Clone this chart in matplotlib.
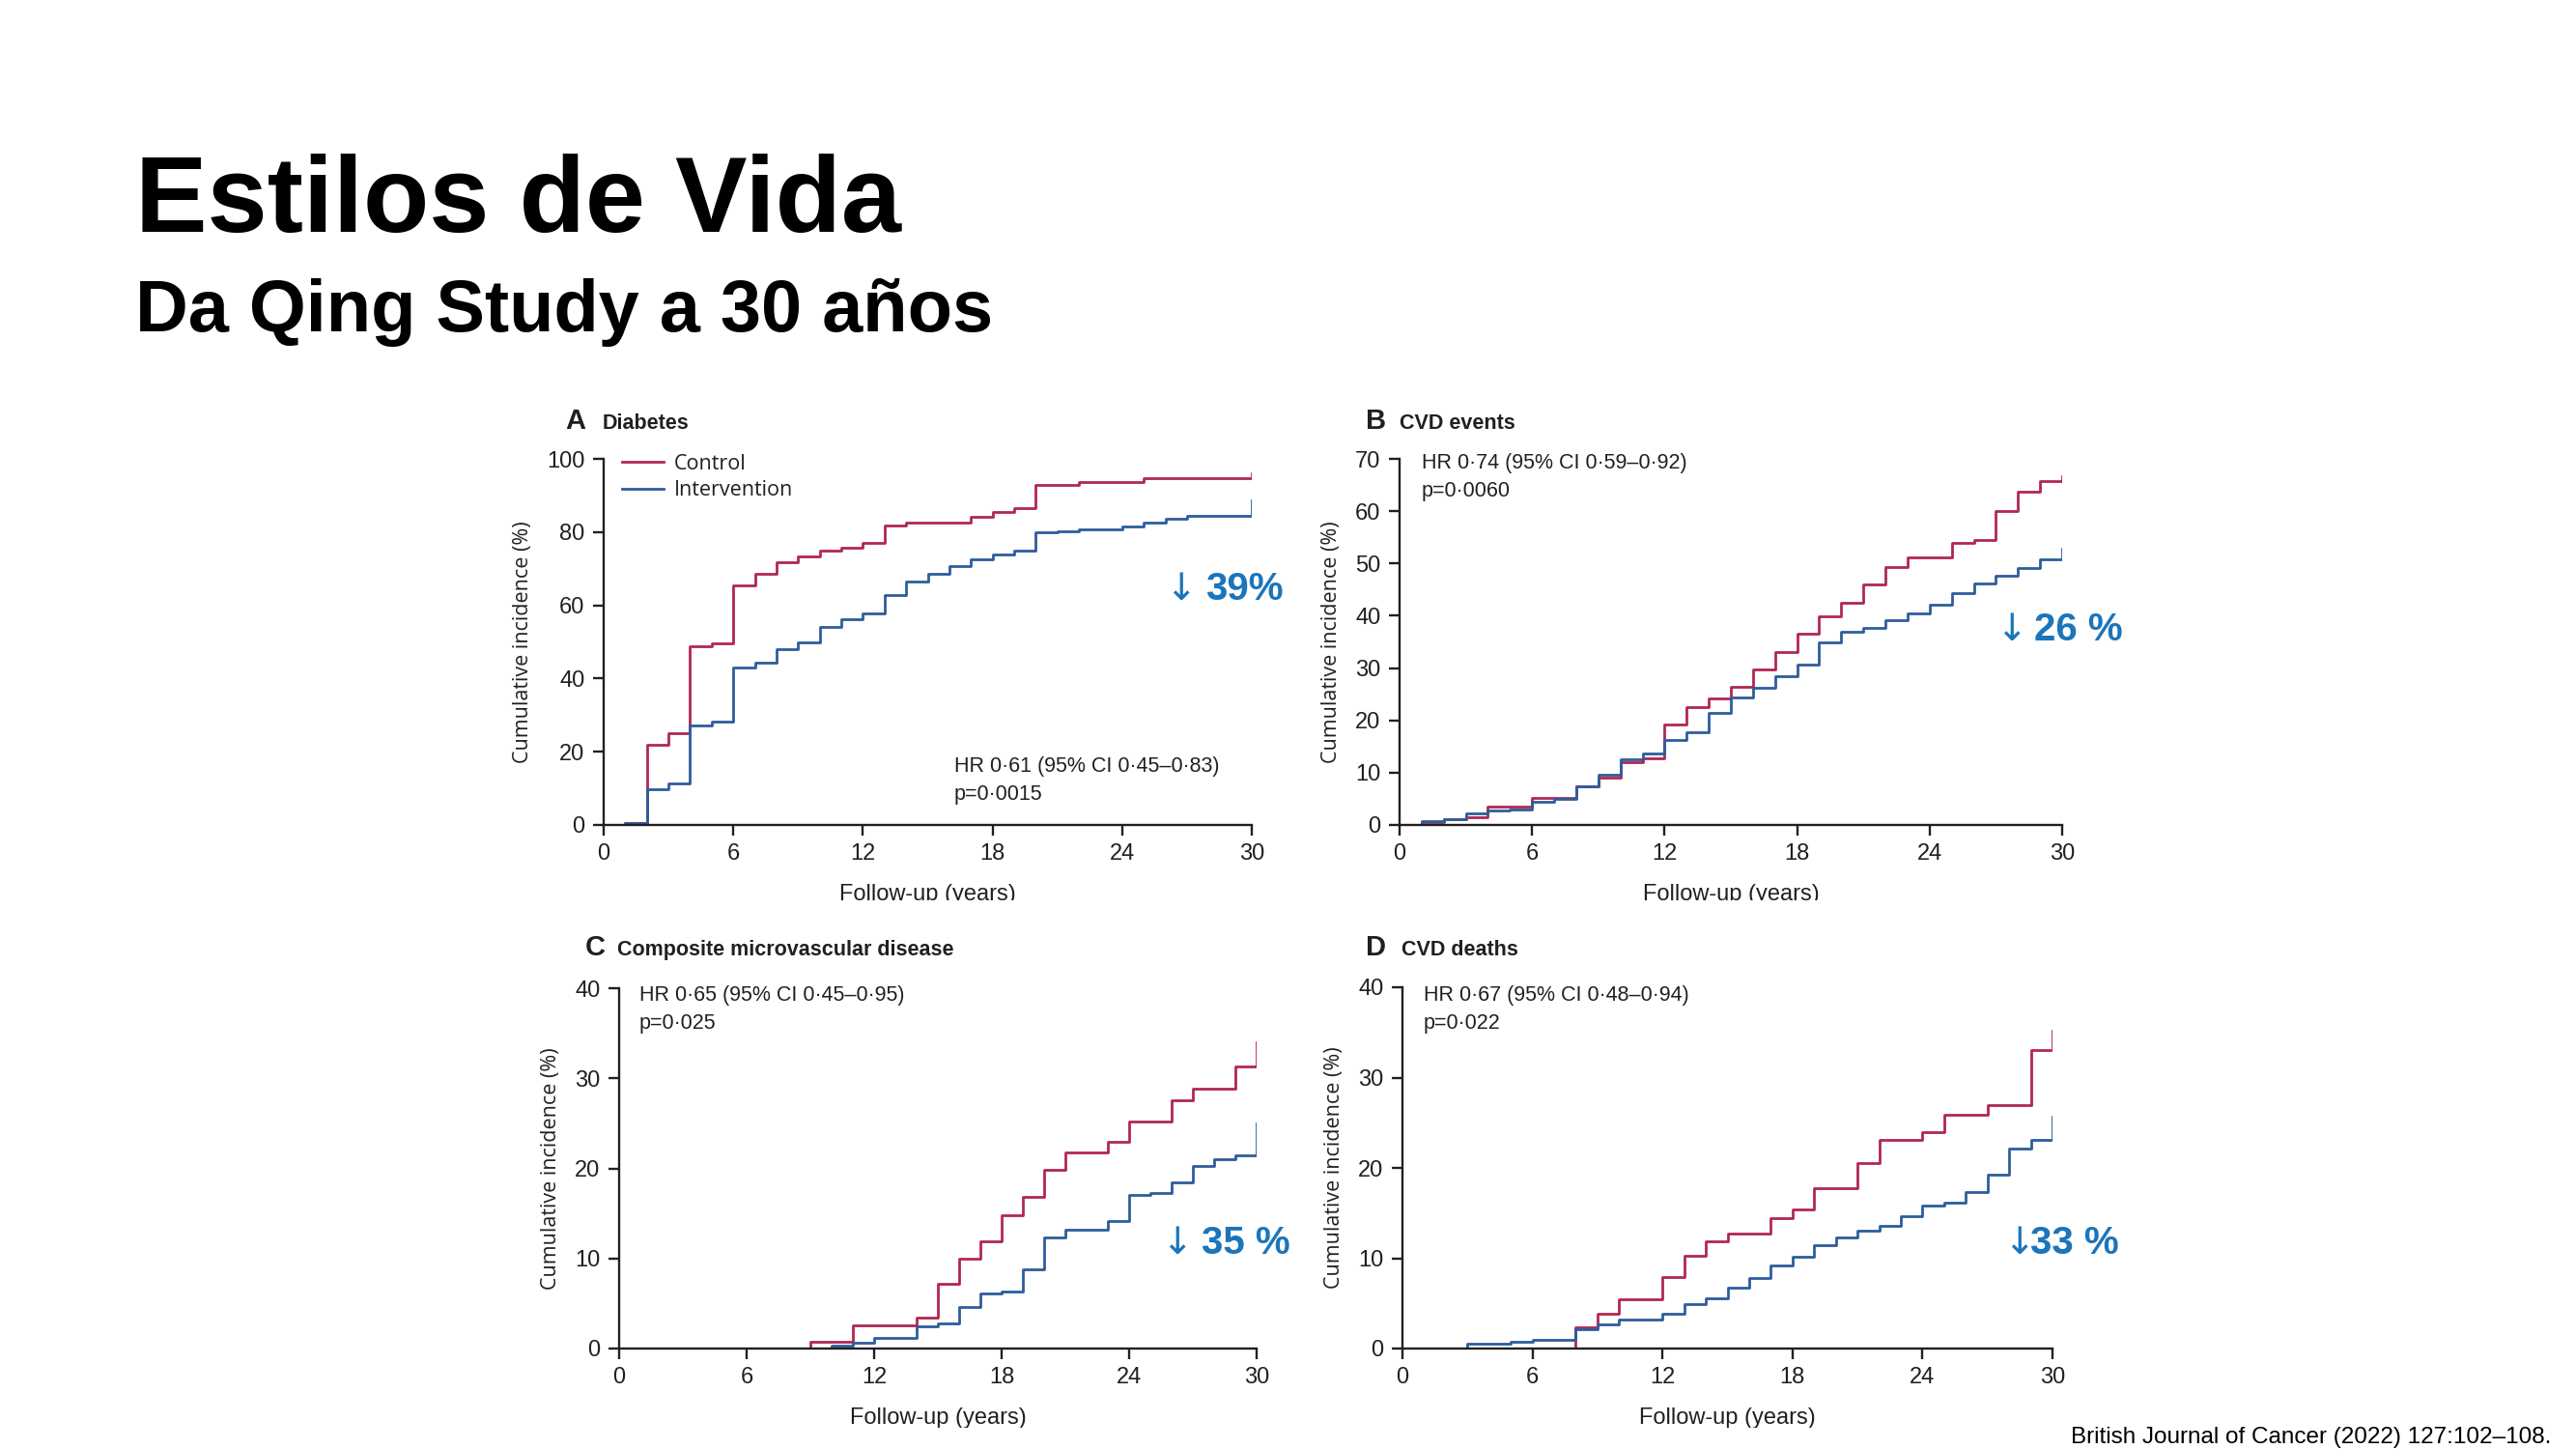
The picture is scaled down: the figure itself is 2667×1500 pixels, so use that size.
import matplotlib
matplotlib.use("Agg")
import matplotlib.pyplot as plt
from matplotlib.transforms import Bbox, TransformedBbox

# --- data ---
years = list(range(0, 31))

# A Diabetes
a_control = [0, 0.5, 22, 25, 48.8, 49.5, 65.4, 68.6, 71.8, 73.3, 74.9, 75.6, 77.1, 81.7, 82.6,
             82.6, 82.6, 84.1, 85.6, 86.6, 93, 93, 93.7, 93.7, 93.7, 94.8, 94.8, 94.8, 94.8, 94.8, 94.8]
a_interv = [0, 0.5, 9.8, 11.4, 27.1, 28.2, 42.9, 44.4, 48, 49.8, 54.1, 56.2, 57.8, 62.7, 66.6,
            68.6, 70.6, 72.6, 73.8, 74.9, 79.9, 80.3, 80.8, 80.8, 81.5, 82.7, 83.6, 84.4, 84.4, 84.4, 84.4]
a_end = (96, 88.6)

# B CVD events
b_control = [0, 0.6, 1.2, 1.5, 3.6, 3.6, 5.1, 5.1, 7.3, 9.0, 12.0, 12.8, 19.2, 22.5, 24.2,
             26.5, 29.8, 33.1, 36.6, 39.9, 42.5, 46, 49.4, 51.2, 51.2, 53.9, 54.5, 60.1, 63.8, 65.7, 65.7]
b_interv = [0, 0.8, 1.1, 2.2, 2.7, 3.0, 4.5, 5.0, 7.4, 9.6, 12.5, 13.6, 16.3, 17.8, 21.4,
            24.4, 26.2, 28.4, 30.6, 34.9, 37, 37.7, 39.2, 40.4, 42.2, 44.3, 46.2, 47.7, 49.2, 50.8, 50.8]
b_end = (66.7, 52.9)

# C Composite microvascular disease
c_control = [0, 0, 0, 0, 0, 0, 0, 0, 0, 0.8, 0.8, 2.6, 2.6, 2.6, 3.4,
             7.2, 10, 11.9, 14.8, 16.8, 19.8, 21.8, 21.8, 22.9, 25.2, 25.2, 27.6, 28.8, 28.8, 31.3, 31.3]
c_interv = [0, 0, 0, 0, 0, 0, 0, 0, 0, 0, 0.3, 0.6, 1.2, 1.2, 2.5,
            2.8, 4.6, 6.1, 6.3, 8.8, 12.3, 13.2, 13.2, 14.2, 17, 17.3, 18.4, 20.3, 21, 21.4, 21.4]
c_end = (34, 25)

# D CVD deaths
d_control = [0, 0, 0, 0, 0, 0, 0, 0, 2.3, 3.8, 5.5, 5.5, 7.9, 10.3, 11.9,
             12.7, 12.7, 14.4, 15.4, 17.8, 17.8, 20.5, 23.1, 23.1, 24, 25.9, 25.9, 26.9, 26.9, 33.1, 33.1]
d_interv = [0, 0, 0, 0.5, 0.5, 0.7, 1.0, 1.0, 2.1, 2.7, 3.2, 3.2, 3.8, 4.9, 5.6,
            6.7, 7.8, 9.2, 10.2, 11.4, 12.3, 13.1, 13.6, 14.6, 15.8, 16.1, 17.3, 19.2, 22.1, 23.1, 23.1]
d_end = (35.2, 25.7)

panel_letters = ["A", "B", "C", "D"]
panel_titles = ["Diabetes", "CVD events", "Composite microvascular disease", "CVD deaths"]
hr_texts = ["HR 0·61 (95% CI 0·45–0·83)\np=0·0015",
            "HR 0·74 (95% CI 0·59–0·92)\np=0·0060",
            "HR 0·65 (95% CI 0·45–0·95)\np=0·025",
            "HR 0·67 (95% CI 0·48–0·94)\np=0·022"]
reductions = ["39%", "26 %", "35 %", "33 %"]
y_max = [100, 70, 40, 40]
y_step = [20, 10, 10, 10]
x_ticks = [0, 6, 12, 18, 24, 30]

RED = "#b0284f"
BLUE = "#2d5d9c"
NOTE = "#1b75bb"
INK = "#231f20"
NARROW = ["Liberation Sans", "DejaVu Sans"]
ROUND = ["Open Sans", "DejaVu Sans"]
SLIDE = ["Liberation Sans", "DejaVu Sans"]

W, H = 2667, 1500
fig = plt.figure(figsize=(W / 100, H / 100), dpi=100)


def px(x, y):
    # pixel position -> figure fraction
    return x / W, 1 - y / H


def panel(rect, control, interv, end, ymax, ystep):
    ax = fig.add_axes(rect)
    ax.step(years + [30], control + [end[0]], where="post", color=RED, lw=2.0)
    ax.step(years + [30], interv + [end[1]], where="post", color=BLUE, lw=2.0)
    ax.set_xlim(0, 30)
    ax.set_ylim(0, ymax)
    ax.set_xticks(x_ticks)
    ax.set_yticks(range(0, ymax + 1, ystep))
    for s in ["top", "right"]:
        ax.spines[s].set_visible(False)
    for s in ["left", "bottom"]:
        ax.spines[s].set_linewidth(1.7)
        ax.spines[s].set_color(INK)
    ax.tick_params(length=8, width=1.7, color=INK, labelcolor=INK, labelsize=17, pad=6)
    for lab in ax.get_xticklabels() + ax.get_yticklabels():
        lab.set_family(NARROW)
    ax.set_ylabel("Cumulative incidence (%)", family=ROUND, fontsize=15.5, color=INK, labelpad=10)
    ax.set_xlabel("Follow-up (years)", family=NARROW, fontsize=17, color=INK, labelpad=14)
    return ax


rects = [
    [625 / W, 1 - 854 / H, 671 / W, 379 / H],
    [1449 / W, 1 - 854 / H, 686 / W, 379 / H],
    [641 / W, 1 - 1396 / H, 660 / W, 373 / H],
    [1452 / W, 1 - 1396 / H, 673 / W, 374 / H],
]
datasets = [(a_control, a_interv, a_end), (b_control, b_interv, b_end),
            (c_control, c_interv, c_end), (d_control, d_interv, d_end)]

axes = []
for i in range(4):
    c, iv, e = datasets[i]
    axes.append(panel(rects[i], c, iv, e, y_max[i], y_step[i]))

# x labels are cut off at the bottom in the reference image
for ax, cut in zip(axes, [932, 932, 1478, 1478]):
    lbl = ax.xaxis.label
    lbl.set_clip_on(True)
    lbl.set_clip_box(TransformedBbox(Bbox([[0, 1 - cut / H], [1, 1]]), fig.transFigure))

# panel headings
letter_pos = [(585, 444), (1414, 444), (606, 989), (1414, 989)]
title_pos = [(624, 444), (1449, 444), (639, 989), (1451, 989)]
for i in range(4):
    fig.text(*px(*letter_pos[i]), panel_letters[i], family=NARROW, fontsize=21,
             fontweight="bold", color=INK, va="baseline")
    fig.text(*px(*title_pos[i]), panel_titles[i], family=NARROW, fontsize=15.5,
             fontweight="bold", color=INK, va="baseline")

# HR text
hr_pos = [(988, 808), (1472, 494), (662, 1045), (1474, 1045)]
for i in range(4):
    fig.text(*px(*hr_pos[i]), hr_texts[i], family=NARROW, fontsize=15.5, color=INK,
             va="center", linespacing=1.45)

# legend in A
axes[0].legend(["Control", "Intervention"], loc="upper left", bbox_to_anchor=(0.0, 1.065),
               frameon=False, prop={"family": ROUND, "size": 15.5}, handlelength=2.0,
               handletextpad=0.5, labelspacing=0.3, labelcolor=INK)

# reduction notes
arrow_pos = [(1206, 621), (2066, 663), (1202, 1298), (2074, 1298)]
num_pos = [(1248, 621), (2106, 663), (1244, 1298), (2102, 1298)]
for i in range(4):
    fig.text(*px(*arrow_pos[i]), "↓", family=["DejaVu Sans"], fontsize=28, color=NOTE,
             va="baseline")
    fig.text(*px(*num_pos[i]), reductions[i], family=SLIDE,
             fontsize=29, fontweight="bold", color=NOTE, va="baseline")

# slide titles
fig.text(*px(140, 240), "Estilos de Vida", family=SLIDE,
         fontsize=80.5, fontweight="bold", color="black", va="baseline")
fig.text(*px(140, 343), "Da Qing Study a 30 años", family=SLIDE,
         fontsize=54.5, fontweight="bold", color="black", va="baseline")
fig.text(*px(2641, 1494), "British Journal of Cancer (2022) 127:102–108.",
         family=SLIDE, fontsize=17.5, color="black", ha="right", va="baseline")

fig.savefig("out.png", dpi=100, facecolor="white")
